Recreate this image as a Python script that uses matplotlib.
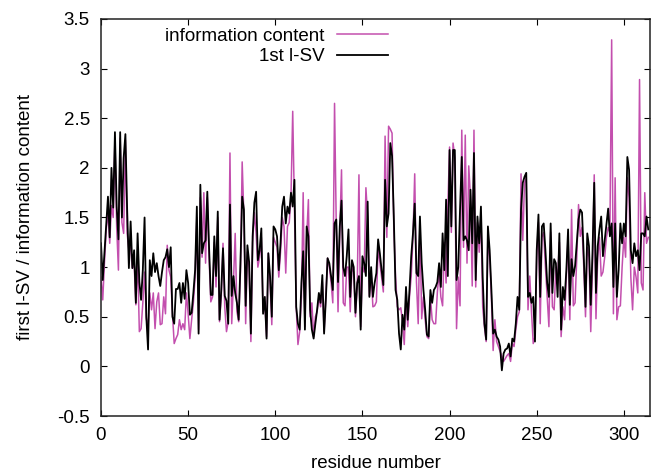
import numpy as np
import matplotlib
matplotlib.use("Agg")
import matplotlib.pyplot as plt
from matplotlib.ticker import FuncFormatter

# values, one per residue
lsv1 = [
    1.24, 0.87, 1.15, 1.44, 1.71, 1.30, 2.00, 1.60, 2.36, 1.61,
    1.28, 2.36, 1.50, 2.10, 2.34, 1.58, 0.99, 1.46, 0.99, 1.17,
    0.64, 1.34, 0.85, 0.67, 0.97, 1.50, 0.50, 0.17, 1.07, 0.91,
    1.14, 0.95, 1.04, 0.91, 0.81, 0.95, 1.07, 1.10, 1.18, 1.00,
    1.20, 0.50, 0.43, 0.78, 0.78, 0.84, 0.64, 0.84, 0.68, 0.97,
    0.84, 0.52, 0.54, 0.74, 0.97, 1.61, 0.33, 1.83, 1.14, 1.24,
    1.27, 1.76, 1.20, 0.72, 0.72, 1.31, 0.91, 1.56, 0.47, 0.77,
    1.19, 0.71, 0.66, 0.43, 1.63, 0.71, 0.91, 0.74, 0.64, 0.47,
    1.03, 1.71, 1.58, 0.61, 1.22, 1.05, 0.33, 1.31, 1.65, 1.76,
    1.07, 1.17, 1.39, 0.53, 0.70, 0.28, 1.14, 0.91, 0.50, 1.41,
    1.38, 1.31, 0.97, 1.24, 1.61, 1.71, 1.44, 1.61, 1.54, 1.75,
    1.61, 1.88, 0.60, 0.43, 0.37, 0.84, 1.16, 0.37, 1.41, 1.31,
    0.57, 0.37, 0.28, 0.43, 0.57, 0.74, 0.64, 0.92, 0.33, 0.67,
    1.09, 1.04, 0.91, 0.77, 1.44, 1.48, 0.85, 1.41, 1.67, 1.00,
    0.91, 1.11, 1.38, 0.70, 1.07, 1.00, 0.54, 0.84, 0.91, 0.37,
    1.11, 1.04, 0.91, 1.66, 0.70, 1.00, 0.70, 0.84, 0.94, 1.28,
    1.14, 0.97, 0.82, 1.88, 1.41, 1.54, 2.25, 2.12, 1.51, 0.77,
    0.67, 0.33, 0.17, 0.52, 0.37, 0.80, 0.47, 0.77, 1.11, 1.34,
    1.64, 0.94, 0.91, 1.51, 1.04, 0.77, 0.57, 0.32, 0.30, 0.77,
    0.64, 0.77, 0.80, 0.85, 1.04, 0.80, 1.34, 0.97, 1.68, 0.91,
    2.18, 1.41, 2.18, 2.18, 0.87, 1.00, 1.58, 2.11, 1.27, 1.31,
    1.27, 1.17, 1.78, 1.24, 2.15, 0.87, 1.51, 1.24, 1.61, 0.90,
    0.43, 0.27, 1.41, 1.17, 0.77, 0.33, 0.37, 0.30, 0.27, 0.20,
    -0.04, 0.13, 0.17, 0.18, 0.23, 0.10, 0.28, 0.25, 0.43, 0.70,
    0.57, 1.58, 1.85, 1.91, 1.95, 0.70, 0.74, 0.64, 0.70, 0.25,
    1.17, 1.53, 0.70, 1.41, 1.44, 1.17, 0.84, 0.70, 1.44, 0.74,
    1.08, 1.04, 0.70, 1.34, 0.37, 0.80, 0.67, 0.97, 1.38, 0.62,
    1.08, 0.91, 1.01, 1.24, 1.48, 1.58, 1.55, 1.11, 0.60, 1.34,
    1.21, 0.62, 1.14, 1.85, 0.74, 1.21, 1.38, 1.51, 1.11, 1.27,
    1.44, 1.59, 1.31, 1.44, 0.80, 1.44, 0.70, 0.97, 1.44, 1.24,
    1.44, 1.31, 2.11, 1.98, 1.17, 1.04, 1.24, 1.11, 1.17, 0.97,
    1.34, 1.34, 1.31, 1.51, 1.38,
]

info = [
    0.90, 0.67, 1.05, 1.38, 1.55, 1.24, 1.62, 1.50, 2.30, 1.40,
    0.97, 2.30, 1.45, 1.34, 2.28, 1.34, 1.17, 1.20, 0.99, 1.05,
    0.62, 1.10, 0.35, 0.38, 0.64, 0.95, 0.48, 0.40, 0.74, 0.57,
    0.74, 0.38, 0.65, 0.74, 0.42, 0.43, 0.70, 0.53, 1.22, 0.97,
    0.90, 0.53, 0.23, 0.28, 0.32, 0.47, 0.37, 0.43, 0.37, 0.74,
    0.53, 0.28, 0.47, 0.64, 0.90, 1.50, 0.37, 1.70, 1.10, 1.75,
    1.04, 1.70, 1.10, 0.65, 0.70, 1.25, 0.80, 1.50, 0.45, 0.70,
    1.24, 0.60, 0.35, 0.45, 2.15, 0.43, 0.85, 1.34, 0.55, 0.45,
    0.95, 2.06, 1.50, 0.43, 1.15, 1.00, 0.25, 1.25, 1.55, 1.34,
    1.00, 1.10, 1.30, 0.55, 0.65, 0.30, 1.14, 0.85, 0.42, 1.30,
    1.25, 1.20, 0.90, 1.15, 1.50, 1.41, 0.94, 1.41, 1.45, 1.70,
    2.57, 1.60, 0.60, 0.22, 0.35, 0.70, 1.75, 0.40, 1.30, 1.68,
    0.50, 0.64, 0.30, 0.50, 0.55, 0.70, 0.60, 0.85, 0.35, 0.70,
    1.09, 1.00, 0.85, 0.64, 2.65, 1.40, 0.55, 1.35, 1.98, 0.64,
    0.61, 1.00, 1.00, 0.55, 1.00, 0.95, 0.50, 0.80, 1.93, 0.40,
    1.00, 0.95, 1.80, 1.50, 0.71, 0.95, 0.60, 0.61, 0.65, 1.20,
    1.05, 0.90, 0.75, 2.32, 1.30, 2.42, 2.39, 2.35, 1.40, 0.91,
    0.60, 0.57, 0.59, 0.45, 0.22, 0.70, 0.40, 0.70, 0.91, 1.30,
    1.94, 0.85, 0.43, 1.45, 0.48, 0.70, 0.47, 0.30, 0.28, 0.70,
    0.47, 0.43, 0.43, 0.75, 0.95, 0.70, 0.61, 1.25, 0.84, 1.60,
    2.21, 1.35, 2.25, 2.10, 0.38, 0.90, 0.61, 2.38, 1.20, 2.33,
    1.04, 2.02, 1.70, 0.81, 2.38, 0.80, 1.45, 1.15, 1.55, 0.60,
    0.40, 0.25, 1.30, 1.10, 0.70, 0.16, 0.47, 0.25, 0.20, 0.15,
    0.10, 0.05, 0.08, 0.11, 0.13, 0.05, 0.23, 0.20, 0.37, 0.50,
    0.55, 1.94, 1.27, 1.85, 1.90, 0.57, 0.91, 0.55, 0.23, 0.30,
    1.10, 1.45, 0.43, 1.30, 1.35, 1.00, 0.70, 0.40, 1.35, 0.60,
    0.57, 1.00, 0.90, 1.25, 0.30, 0.60, 0.47, 0.90, 1.30, 0.47,
    1.58, 0.61, 0.64, 1.10, 1.63, 1.31, 1.40, 1.00, 0.50, 1.20,
    1.10, 0.35, 1.00, 1.93, 0.48, 1.10, 1.30, 0.91, 0.95, 1.10,
    1.30, 1.40, 1.35, 3.29, 0.53, 1.90, 0.47, 0.60, 0.61, 1.00,
    1.30, 1.10, 1.90, 1.70, 0.90, 0.57, 1.00, 0.90, 0.74, 2.89,
    0.84, 0.77, 1.75, 1.24, 1.30,
]

residue = np.arange(len(lsv1))
xticks = [0, 50, 100, 150, 200, 250, 300]
yticks = [-0.5, 0, 0.5, 1, 1.5, 2, 2.5, 3, 3.5]

plt.rcParams["font.family"] = ["Liberation Sans", "DejaVu Sans"]
plt.rcParams["font.size"] = 13.5

fig = plt.figure(figsize=(6.53, 4.73), dpi=100)
ax = fig.add_axes([101 / 653, 1 - 416 / 473, 549 / 653, 397 / 473])

ax.plot(residue, info, color="#c34fae", lw=1.1, label="information content")
ax.plot(residue, lsv1, color="black", lw=1.3, label="1st l-SV")

ax.set_xlim(0, 315)
ax.set_ylim(-0.5, 3.5)
ax.set_xticks(xticks)
ax.set_yticks(yticks)
ax.yaxis.set_major_formatter(FuncFormatter(lambda v, p: "%g" % v))
ax.tick_params(direction="in", length=4.5, width=0.8, pad=8,
               top=True, right=True, labelsize=13.5)
for s in ax.spines.values():
    s.set_linewidth(1.1)
    s.set_color("#222222")

ax.set_xlabel("residue number")
ax.set_ylabel("first l-SV / information content")
ax.xaxis.set_label_coords(0.5, -0.098)
ax.yaxis.set_label_coords(-0.122, 0.5)

ax.legend(loc="upper right", bbox_to_anchor=(287 / 549, 0.978),
          frameon=False, markerfirst=False, borderpad=0, borderaxespad=0,
          handlelength=2.7, handletextpad=0.7, labelspacing=0.17)

plt.savefig("out.png", dpi=100)
